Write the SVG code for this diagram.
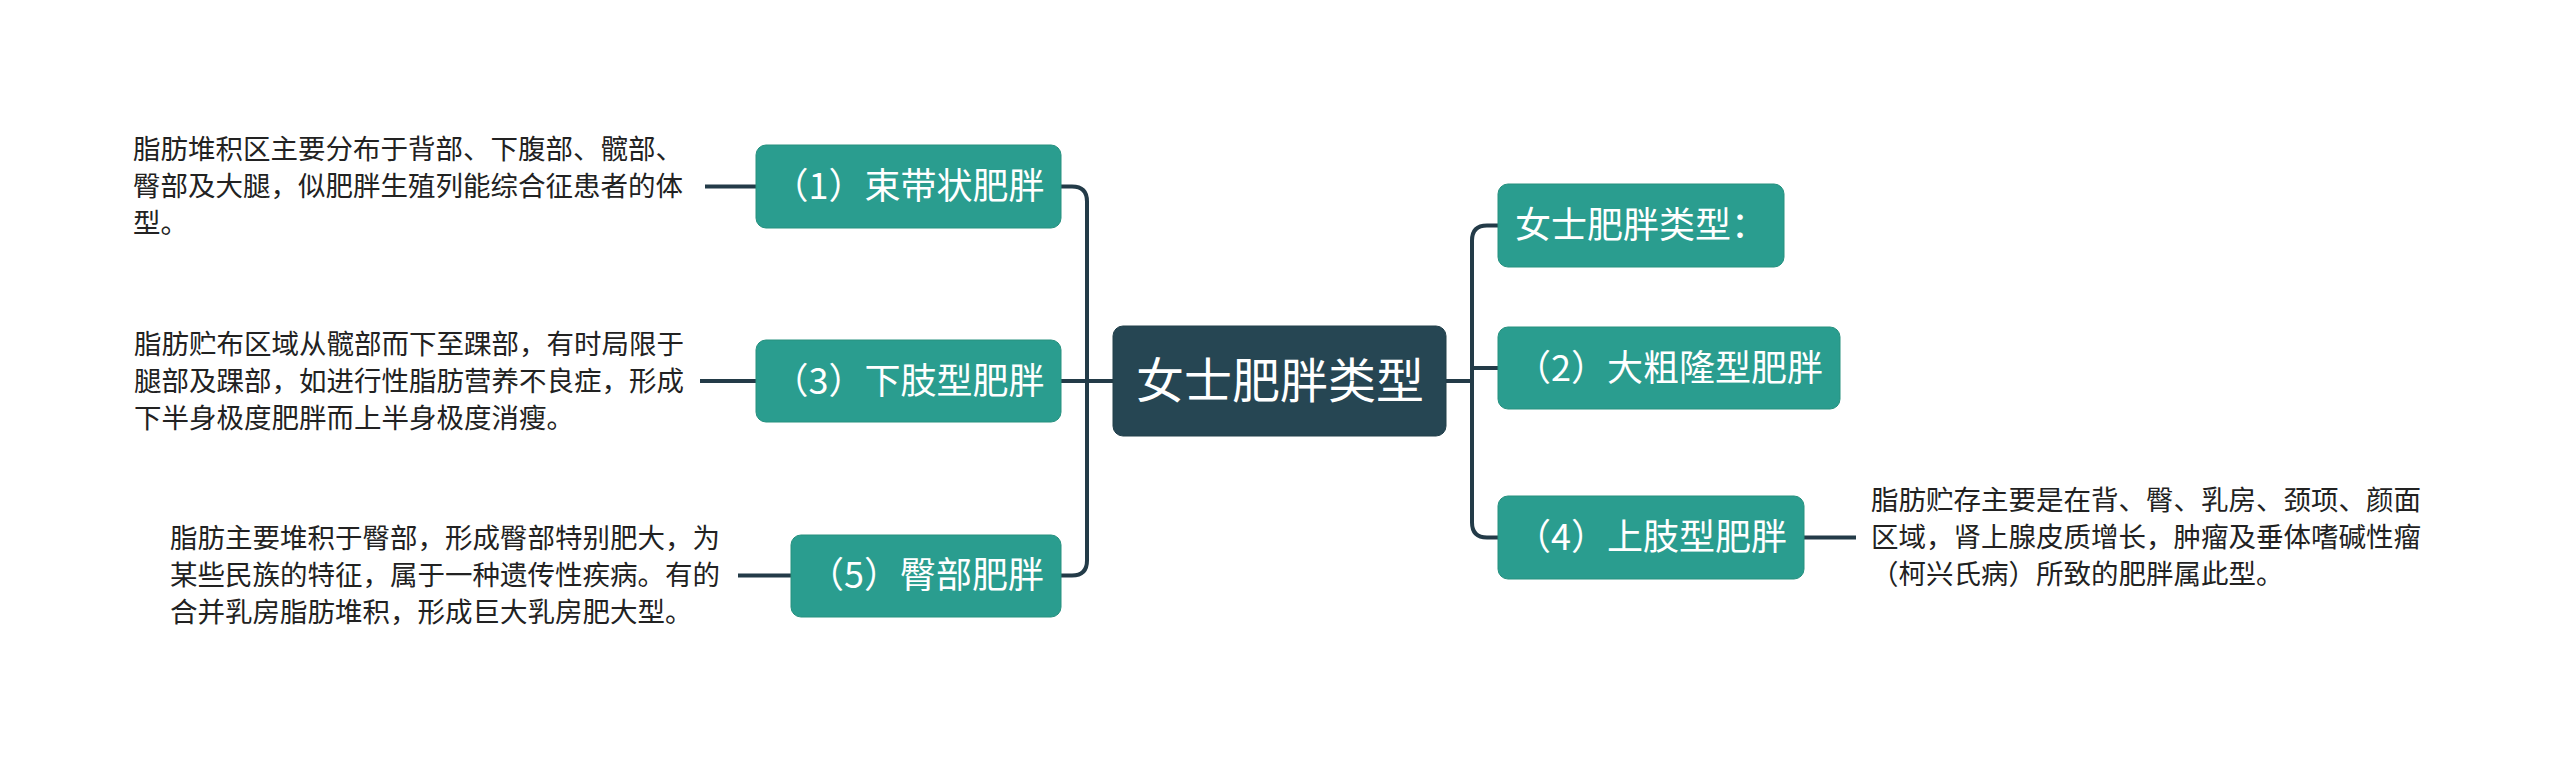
<svg xmlns="http://www.w3.org/2000/svg" width="2560" height="763" viewBox="0 0 2560 763">
<style>
.bg{fill:#ffffff}
.node{fill:#2a9d8f;stroke:#26917f;stroke-width:1}
.root{fill:#264653;stroke:#22404b;stroke-width:1}
.nt{font-family:"Noto Sans CJK SC","Noto Sans",sans-serif;font-size:36px;fill:#ffffff;text-anchor:middle}
.rt{font-family:"Noto Sans CJK SC","Noto Sans",sans-serif;font-size:48px;fill:#ffffff;text-anchor:middle}
.dt{font-family:"Noto Sans CJK SC","Noto Sans",sans-serif;font-size:27.5px;fill:#222222}
.conn{fill:none;stroke:#233b48;stroke-width:4;stroke-linecap:butt}
</style>
<rect class="bg" x="0" y="0" width="2560" height="763"/>
<g id="connectors">
<path class="conn" d="M1113 381 H1087"/>
<path class="conn" d="M1061 186.5 H1072 Q1087 186.5 1087 201.5 V560.5 Q1087 575.5 1072 575.5 H1061"/>
<path class="conn" d="M1061 381 H1087"/>
<path class="conn" d="M1446 381 H1472"/>
<path class="conn" d="M1498 225.5 H1487 Q1472 225.5 1472 240.5 V522.5 Q1472 537.5 1487 537.5 H1498"/>
<path class="conn" d="M1472 368 H1498"/>
<path class="conn" d="M756 186.5 H705"/>
<path class="conn" d="M756 381 H700"/>
<path class="conn" d="M791 575.5 H738"/>
<path class="conn" d="M1804 537.5 H1856"/>
</g>
<g id="root">
<rect class="root" x="1113" y="326" width="333" height="110" rx="10"/>
<text class="rt" x="1280" y="398">女士肥胖类型</text>
</g>
<g id="n1">
<rect class="node" x="756" y="145" width="305" height="83" rx="10"/>
<text class="nt" x="908.5" y="199">（1）束带状肥胖</text>
</g>
<g id="n3">
<rect class="node" x="756" y="340" width="305" height="82" rx="10"/>
<text class="nt" x="908.5" y="394">（3）下肢型肥胖</text>
</g>
<g id="n5">
<rect class="node" x="791" y="535" width="270" height="82" rx="10"/>
<text class="nt" x="926" y="588">（5）臀部肥胖</text>
</g>
<g id="n0">
<rect class="node" x="1498" y="184" width="286" height="83" rx="10"/>
<text class="nt" x="1641" y="238">女士肥胖类型：</text>
</g>
<g id="n2">
<rect class="node" x="1498" y="327" width="342" height="82" rx="10"/>
<text class="nt" x="1669" y="381">（2）大粗隆型肥胖</text>
</g>
<g id="n4">
<rect class="node" x="1498" y="496" width="306" height="83" rx="10"/>
<text class="nt" x="1651" y="550">（4）上肢型肥胖</text>
</g>
<g id="d1">
<text class="dt"><tspan x="133" y="159">脂肪堆积区主要分布于背部、下腹部、髋部、</tspan><tspan x="133" y="196">臀部及大腿，似肥胖生殖列能综合征患者的体</tspan><tspan x="133" y="233">型。</tspan></text>
</g>
<g id="d3">
<text class="dt"><tspan x="134" y="354">脂肪贮布区域从髋部而下至踝部，有时局限于</tspan><tspan x="134" y="391">腿部及踝部，如进行性脂肪营养不良症，形成</tspan><tspan x="134" y="428">下半身极度肥胖而上半身极度消瘦。</tspan></text>
</g>
<g id="d5">
<text class="dt"><tspan x="170" y="548">脂肪主要堆积于臀部，形成臀部特别肥大，为</tspan><tspan x="170" y="585">某些民族的特征，属于一种遗传性疾病。有的</tspan><tspan x="170" y="622">合并乳房脂肪堆积，形成巨大乳房肥大型。</tspan></text>
</g>
<g id="d4">
<text class="dt"><tspan x="1871" y="510">脂肪贮存主要是在背、臀、乳房、颈项、颜面</tspan><tspan x="1871" y="547">区域，肾上腺皮质增长，肿瘤及垂体嗜碱性瘤</tspan><tspan x="1871" y="584">（柯兴氏病）所致的肥胖属此型。</tspan></text>
</g>
</svg>
